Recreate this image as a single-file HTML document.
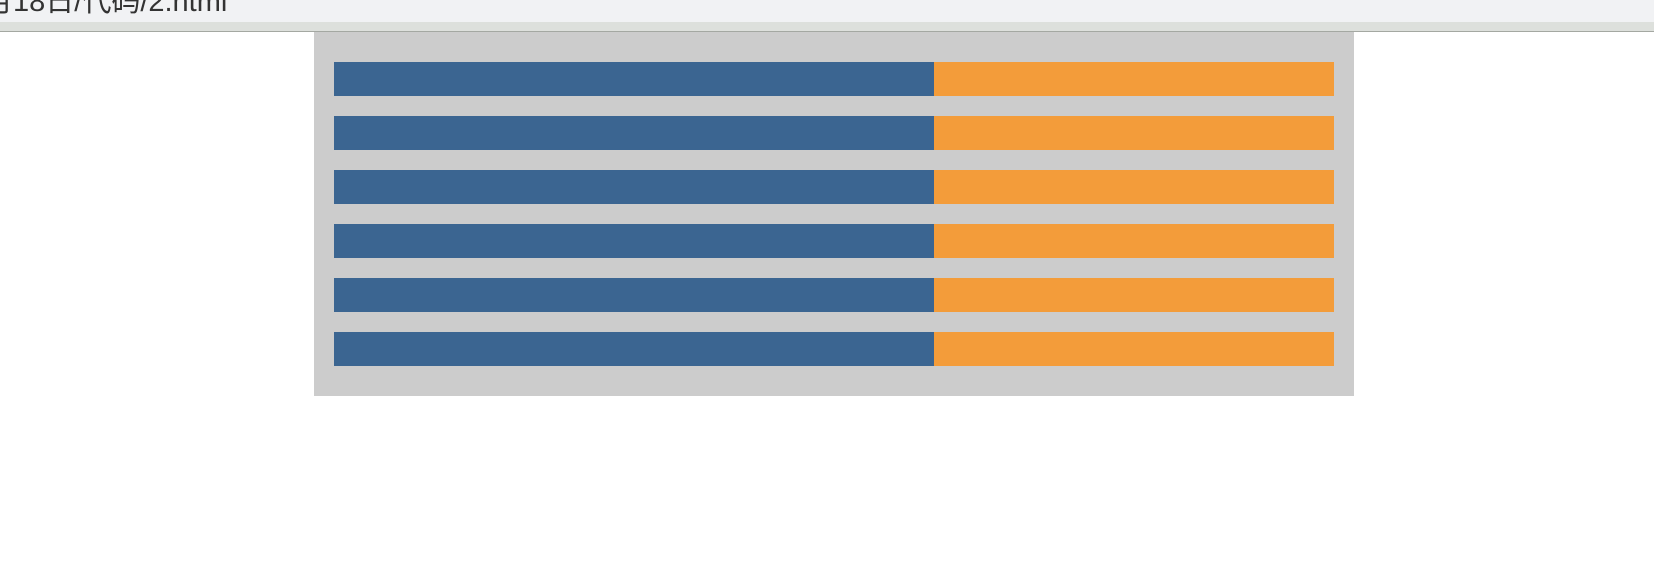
<!DOCTYPE html>
<html><head><meta charset="utf-8"><style>
html,body{margin:0;padding:0;width:1654px;height:586px;overflow:hidden;background:#fff;position:relative;font-family:"Liberation Sans","Noto Sans CJK SC",sans-serif}
#topbar{position:absolute;left:0;top:0;width:1654px;height:22px;background:#f1f2f4;overflow:hidden}
#urltext{position:absolute;left:-16px;top:-22px;font-size:29px;color:#333;white-space:nowrap}
#band{position:absolute;left:0;top:22px;width:1654px;height:10px;background:#dde0dc;border-bottom:1px solid #a4a8a2;box-sizing:border-box}
#panel{position:absolute;left:314px;top:32px;width:1040px;height:364px;background:#cccccc}
</style></head><body>
<div id="topbar"><span id="urltext">月18日/代码/2.html</span></div>
<div id="band"></div>
<div id="panel">
<svg id="chart" width="1040" height="364"></svg>
</div>
<script>
const categories = ["row1","row2","row3","row4","row5","row6"];
const blueValues = [60,60,60,60,60,60];
const orangeValues = [40,40,40,40,40,40];
const maxTotal = 100;
const svg = document.getElementById('chart');
const NS = 'http://www.w3.org/2000/svg';
const x0 = 20, plotW = 1000, y0 = 30, pitch = 54, barH = 34;
function xScale(v){ return v / maxTotal * plotW; }
function yScale(i){ return y0 + i * pitch; }
categories.forEach((c, i) => {
  const b = document.createElementNS(NS, 'rect');
  b.setAttribute('x', x0);
  b.setAttribute('y', yScale(i));
  b.setAttribute('width', xScale(blueValues[i]));
  b.setAttribute('height', barH);
  b.setAttribute('fill', '#3b6591');
  
  
  svg.appendChild(b);
  const o = document.createElementNS(NS, 'rect');
  o.setAttribute('x', x0 + xScale(blueValues[i]));
  o.setAttribute('y', yScale(i));
  o.setAttribute('width', xScale(orangeValues[i]));
  o.setAttribute('height', barH);
  o.setAttribute('fill', '#f39c3a');
  
  
  svg.appendChild(o);
});
</script>
</body></html>
